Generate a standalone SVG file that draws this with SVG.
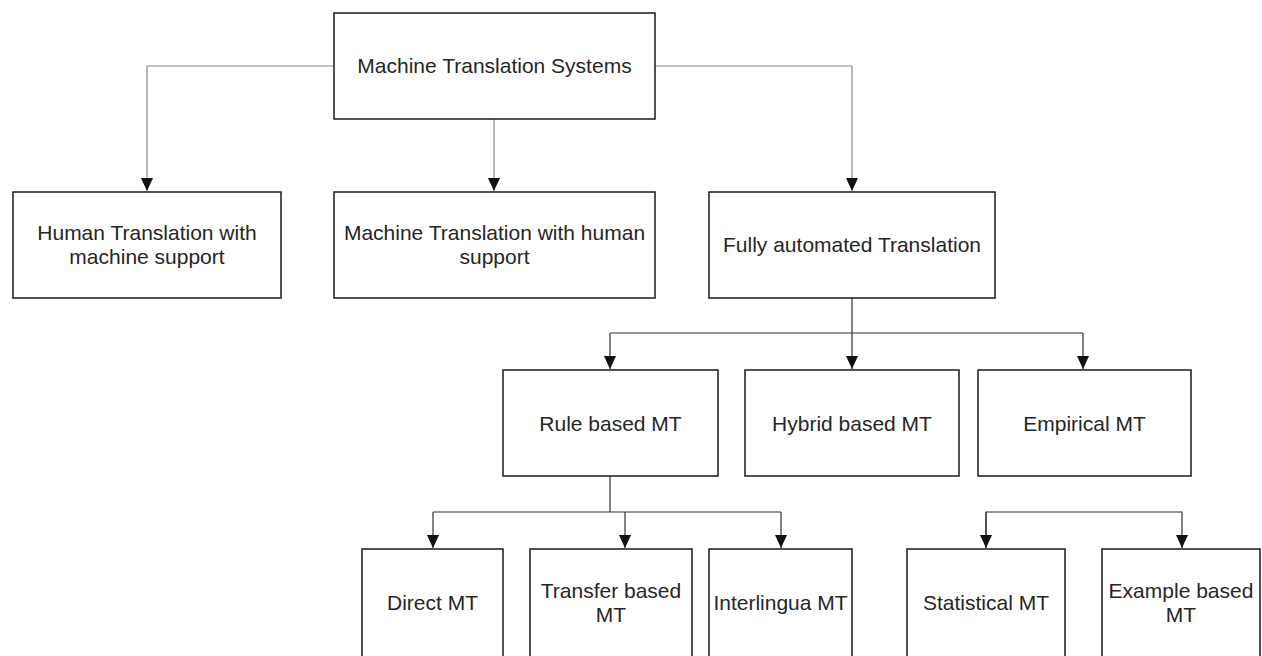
<svg xmlns="http://www.w3.org/2000/svg" width="1262" height="656" viewBox="0 0 1262 656">
  <style>
    .box { fill: #ffffff; stroke: #1a1a1a; stroke-width: 1.5; }
    .lbl { font-family: "Liberation Sans", Arial, sans-serif; font-size: 21px; fill: #262626; text-anchor: middle; }
    .edge { fill: none; stroke: #333333; stroke-width: 1.2; }
    .edge.light { stroke: #8a8a8a; }
  </style>
  <defs>
    <marker id="arrow" markerWidth="13" markerHeight="14" refX="14" refY="6.5" orient="auto" markerUnits="userSpaceOnUse" viewBox="0 0 14 13">
      <path d="M0,0 L14,6.5 L0,13 Z" fill="#111111"/>
    </marker>
  </defs>
  <rect width="1262" height="656" fill="#ffffff"/>

  <!-- connectors -->
  <g id="connectors">
    <path class="edge light" d="M334,66 H147 V191" marker-end="url(#arrow)"/>
    <path class="edge light" d="M494,119 V191" marker-end="url(#arrow)"/>
    <path class="edge light" d="M655,66 H852 V191" marker-end="url(#arrow)"/>

    <path class="edge" d="M852,298 V369" marker-end="url(#arrow)"/>
    <path class="edge" d="M610,333 H1083"/>
    <path class="edge" d="M610,333 V369" marker-end="url(#arrow)"/>
    <path class="edge" d="M1083,333 V369" marker-end="url(#arrow)"/>

    <path class="edge" d="M610,476 V512"/>
    <path class="edge" d="M433,512 H781"/>
    <path class="edge" d="M433,512 V548" marker-end="url(#arrow)"/>
    <path class="edge" d="M625,512 V548" marker-end="url(#arrow)"/>
    <path class="edge" d="M781,512 V548" marker-end="url(#arrow)"/>

    <path class="edge" d="M986,548 V512 H1182 V548" marker-end="url(#arrow)"/>
    <path class="edge" d="M986,512 V548" marker-end="url(#arrow)"/>
  </g>

  <!-- level 1 -->
  <g id="mt-systems">
    <rect class="box" x="334" y="13" width="321" height="106"/>
    <text class="lbl" x="494.5" y="73">Machine Translation Systems</text>
  </g>

  <!-- level 2 -->
  <g id="human-translation">
    <rect class="box" x="13" y="192" width="268" height="106"/>
    <text class="lbl" x="147" y="240">Human Translation with</text>
    <text class="lbl" x="147" y="264">machine support</text>
  </g>
  <g id="machine-translation">
    <rect class="box" x="334" y="192" width="321" height="106"/>
    <text class="lbl" x="494.5" y="240">Machine Translation with human</text>
    <text class="lbl" x="494.5" y="264">support</text>
  </g>
  <g id="fully-automated">
    <rect class="box" x="709" y="192" width="286" height="106"/>
    <text class="lbl" x="852" y="252">Fully automated Translation</text>
  </g>

  <!-- level 3 -->
  <g id="rule-based">
    <rect class="box" x="503" y="370" width="215" height="106"/>
    <text class="lbl" x="610.5" y="431">Rule based MT</text>
  </g>
  <g id="hybrid-based">
    <rect class="box" x="745" y="370" width="214" height="106"/>
    <text class="lbl" x="852" y="431">Hybrid based MT</text>
  </g>
  <g id="empirical">
    <rect class="box" x="978" y="370" width="213" height="106"/>
    <text class="lbl" x="1084.5" y="431">Empirical MT</text>
  </g>

  <!-- level 4 -->
  <g id="direct">
    <rect class="box" x="362" y="549" width="141" height="110"/>
    <text class="lbl" x="432.5" y="610">Direct MT</text>
  </g>
  <g id="transfer-based">
    <rect class="box" x="530" y="549" width="162" height="110"/>
    <text class="lbl" x="611" y="598">Transfer based</text>
    <text class="lbl" x="611" y="622">MT</text>
  </g>
  <g id="interlingua">
    <rect class="box" x="709" y="549" width="143" height="110"/>
    <text class="lbl" x="780.5" y="610">Interlingua MT</text>
  </g>
  <g id="statistical">
    <rect class="box" x="907" y="549" width="158" height="110"/>
    <text class="lbl" x="986" y="610">Statistical MT</text>
  </g>
  <g id="example-based">
    <rect class="box" x="1102" y="549" width="158" height="110"/>
    <text class="lbl" x="1181" y="598">Example based</text>
    <text class="lbl" x="1181" y="622">MT</text>
  </g>
</svg>
